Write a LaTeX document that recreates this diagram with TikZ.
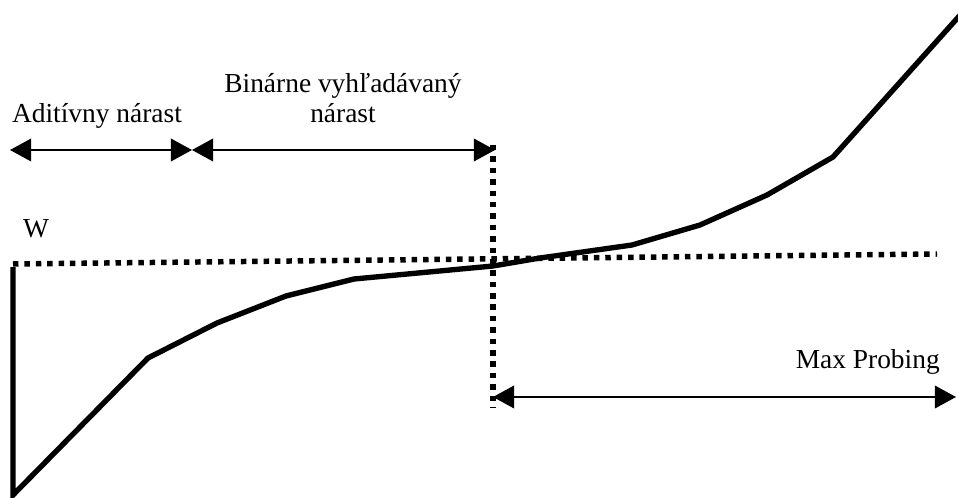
\documentclass[tikz,border=0pt]{standalone}
\usepackage{fontspec}
\setmainfont{Liberation Serif}
\usetikzlibrary{arrows.meta,positioning}

\begin{document}
\begin{tikzpicture}[x=0.025cm, y=-0.025cm, font=\fontsize{19.5}{22}\selectfont, >={Triangle[length=15pt,width=16pt]}]
\tikzset{
  curve/.style={line width=3.8pt, line join=miter},
  dots/.style={line width=3.9pt, dash pattern=on 3.9pt off 4.2pt},
  span/.style={<->, line width=1.5pt},
  lbl/.style={inner sep=0pt, anchor=base}
}
\useasboundingbox (0,0) rectangle (958,498);
% marks on the axes
\coordinate (wl) at (13,264);
\coordinate (wr) at (937,254);
\coordinate (vt) at (493,145);
\coordinate (vb) at (493,408);
\coordinate (a0) at (10,150);
\coordinate (a1) at (192,150);
\coordinate (a2) at (495,150);
\coordinate (p0) at (493,397);
\coordinate (p1) at (956,397);
% labels
\node[lbl] (add) at (97,123) {Aditívny nárast};
\node[lbl] (bin) at (343,93) {Binárne vyhľadávaný};
\node[lbl] (bin2) at (343,123) {nárast};
\node[lbl] (w) at (36,238) {W};
\node[lbl, anchor=base east] (probe) at (940,368) {Max Probing};
% dotted guides
\draw[dots] (wl) -- (wr);
\draw[dots] (vt) -- (vb);
% ranges
\draw[span] (a0) -- (a1);
\draw[span] (a1) -- (a2);
\draw[span] (p0) -- (p1);
% window curve
\draw[curve] (13,267) -- (13,495) -- (148,358) -- (217,323) -- (286,296)
  -- (354,279) -- (493,266) -- (540,258) -- (632,245) -- (700,225)
  -- (767,195) -- (833,157) -- (962,13);
\end{tikzpicture}
\end{document}
